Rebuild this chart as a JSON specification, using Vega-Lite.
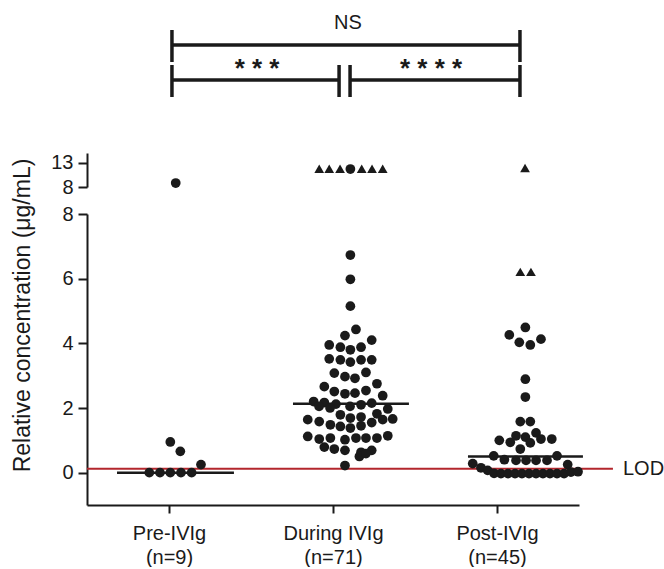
{
  "$schema": "https://vega.github.io/schema/vega-lite/v6.json",
  "background": "white",
  "padding": {"left": 10, "top": 10, "right": 0, "bottom": 0},
  "bounds": "flush",
  "spacing": 27,
  "config": {
    "view": {"stroke": null},
    "font": "Liberation Sans",
    "axis": {
      "domainColor": "#1a1a1a", "domainWidth": 2, "tickColor": "#1a1a1a", "tickWidth": 2, "tickSize": 9,
      "labelColor": "#1a1a1a", "labelFont": "Liberation Sans", "labelFontSize": 20, "labelPadding": 5,
      "titleFont": "Liberation Sans", "titleFontSize": 23, "titleFontWeight": "normal", "titleColor": "#1a1a1a",
      "grid": false
    }
  },
  "datasets": {
    "points": [
      {"group": "Pre-IVIg", "marker": "measured", "xpos": 0.541, "value": 8.82},
      {"group": "Pre-IVIg", "marker": "measured", "xpos": 0.508, "value": 0.95},
      {"group": "Pre-IVIg", "marker": "measured", "xpos": 0.569, "value": 0.66},
      {"group": "Pre-IVIg", "marker": "measured", "xpos": 0.695, "value": 0.25},
      {"group": "Pre-IVIg", "marker": "measured", "xpos": 0.380, "value": 0.0},
      {"group": "Pre-IVIg", "marker": "measured", "xpos": 0.445, "value": 0.0},
      {"group": "Pre-IVIg", "marker": "measured", "xpos": 0.508, "value": 0.0},
      {"group": "Pre-IVIg", "marker": "measured", "xpos": 0.573, "value": 0.0},
      {"group": "Pre-IVIg", "marker": "measured", "xpos": 0.638, "value": 0.0},

      {"group": "During IVIg", "marker": "flagged", "xpos": 1.416, "value": 11.75},
      {"group": "During IVIg", "marker": "flagged", "xpos": 1.477, "value": 11.75},
      {"group": "During IVIg", "marker": "flagged", "xpos": 1.543, "value": 11.75},
      {"group": "During IVIg", "marker": "measured", "xpos": 1.606, "value": 11.7},
      {"group": "During IVIg", "marker": "flagged", "xpos": 1.675, "value": 11.75},
      {"group": "During IVIg", "marker": "flagged", "xpos": 1.738, "value": 11.75},
      {"group": "During IVIg", "marker": "flagged", "xpos": 1.803, "value": 11.75},
      {"group": "During IVIg", "marker": "measured", "xpos": 1.606, "value": 6.73},
      {"group": "During IVIg", "marker": "measured", "xpos": 1.606, "value": 5.98},
      {"group": "During IVIg", "marker": "measured", "xpos": 1.606, "value": 5.15},
      {"group": "During IVIg", "marker": "measured", "xpos": 1.640, "value": 4.43},
      {"group": "During IVIg", "marker": "measured", "xpos": 1.573, "value": 4.24},
      {"group": "During IVIg", "marker": "measured", "xpos": 1.736, "value": 4.10},
      {"group": "During IVIg", "marker": "measured", "xpos": 1.477, "value": 3.95},
      {"group": "During IVIg", "marker": "measured", "xpos": 1.545, "value": 3.88},
      {"group": "During IVIg", "marker": "measured", "xpos": 1.606, "value": 3.80},
      {"group": "During IVIg", "marker": "measured", "xpos": 1.671, "value": 3.88},
      {"group": "During IVIg", "marker": "measured", "xpos": 1.477, "value": 3.52},
      {"group": "During IVIg", "marker": "measured", "xpos": 1.545, "value": 3.49},
      {"group": "During IVIg", "marker": "measured", "xpos": 1.606, "value": 3.42},
      {"group": "During IVIg", "marker": "measured", "xpos": 1.671, "value": 3.49},
      {"group": "During IVIg", "marker": "measured", "xpos": 1.736, "value": 3.49},
      {"group": "During IVIg", "marker": "measured", "xpos": 1.508, "value": 3.08},
      {"group": "During IVIg", "marker": "measured", "xpos": 1.573, "value": 2.97},
      {"group": "During IVIg", "marker": "measured", "xpos": 1.634, "value": 2.92},
      {"group": "During IVIg", "marker": "measured", "xpos": 1.701, "value": 3.10},
      {"group": "During IVIg", "marker": "measured", "xpos": 1.447, "value": 2.66},
      {"group": "During IVIg", "marker": "measured", "xpos": 1.508, "value": 2.51},
      {"group": "During IVIg", "marker": "measured", "xpos": 1.573, "value": 2.44},
      {"group": "During IVIg", "marker": "measured", "xpos": 1.634, "value": 2.46},
      {"group": "During IVIg", "marker": "measured", "xpos": 1.701, "value": 2.54},
      {"group": "During IVIg", "marker": "measured", "xpos": 1.768, "value": 2.75},
      {"group": "During IVIg", "marker": "measured", "xpos": 1.803, "value": 2.38},
      {"group": "During IVIg", "marker": "measured", "xpos": 1.382, "value": 2.20},
      {"group": "During IVIg", "marker": "measured", "xpos": 1.447, "value": 2.17},
      {"group": "During IVIg", "marker": "measured", "xpos": 1.518, "value": 2.12},
      {"group": "During IVIg", "marker": "measured", "xpos": 1.415, "value": 2.05},
      {"group": "During IVIg", "marker": "measured", "xpos": 1.482, "value": 2.00},
      {"group": "During IVIg", "marker": "measured", "xpos": 1.604, "value": 2.05},
      {"group": "During IVIg", "marker": "measured", "xpos": 1.671, "value": 2.10},
      {"group": "During IVIg", "marker": "measured", "xpos": 1.736, "value": 2.15},
      {"group": "During IVIg", "marker": "measured", "xpos": 1.834, "value": 1.97},
      {"group": "During IVIg", "marker": "measured", "xpos": 1.545, "value": 1.79},
      {"group": "During IVIg", "marker": "measured", "xpos": 1.606, "value": 1.69},
      {"group": "During IVIg", "marker": "measured", "xpos": 1.671, "value": 1.72},
      {"group": "During IVIg", "marker": "measured", "xpos": 1.736, "value": 1.55},
      {"group": "During IVIg", "marker": "measured", "xpos": 1.768, "value": 1.82},
      {"group": "During IVIg", "marker": "measured", "xpos": 1.803, "value": 1.64},
      {"group": "During IVIg", "marker": "measured", "xpos": 1.864, "value": 1.66},
      {"group": "During IVIg", "marker": "measured", "xpos": 1.346, "value": 1.64},
      {"group": "During IVIg", "marker": "measured", "xpos": 1.416, "value": 1.58},
      {"group": "During IVIg", "marker": "measured", "xpos": 1.484, "value": 1.48},
      {"group": "During IVIg", "marker": "measured", "xpos": 1.545, "value": 1.43},
      {"group": "During IVIg", "marker": "measured", "xpos": 1.606, "value": 1.38},
      {"group": "During IVIg", "marker": "measured", "xpos": 1.671, "value": 1.45},
      {"group": "During IVIg", "marker": "measured", "xpos": 1.346, "value": 1.12},
      {"group": "During IVIg", "marker": "measured", "xpos": 1.416, "value": 1.04},
      {"group": "During IVIg", "marker": "measured", "xpos": 1.484, "value": 1.07},
      {"group": "During IVIg", "marker": "measured", "xpos": 1.573, "value": 1.02},
      {"group": "During IVIg", "marker": "measured", "xpos": 1.640, "value": 1.07},
      {"group": "During IVIg", "marker": "measured", "xpos": 1.701, "value": 1.07},
      {"group": "During IVIg", "marker": "measured", "xpos": 1.768, "value": 1.07},
      {"group": "During IVIg", "marker": "measured", "xpos": 1.834, "value": 1.14},
      {"group": "During IVIg", "marker": "measured", "xpos": 1.447, "value": 0.79},
      {"group": "During IVIg", "marker": "measured", "xpos": 1.508, "value": 0.73},
      {"group": "During IVIg", "marker": "measured", "xpos": 1.573, "value": 0.69},
      {"group": "During IVIg", "marker": "measured", "xpos": 1.671, "value": 0.63},
      {"group": "During IVIg", "marker": "measured", "xpos": 1.736, "value": 0.69},
      {"group": "During IVIg", "marker": "measured", "xpos": 1.661, "value": 0.50},
      {"group": "During IVIg", "marker": "measured", "xpos": 1.701, "value": 0.59},
      {"group": "During IVIg", "marker": "measured", "xpos": 1.573, "value": 0.22},

      {"group": "Post-IVIg", "marker": "flagged", "xpos": 2.671, "value": 11.9},
      {"group": "Post-IVIg", "marker": "flagged", "xpos": 2.642, "value": 6.21},
      {"group": "Post-IVIg", "marker": "flagged", "xpos": 2.707, "value": 6.21},
      {"group": "Post-IVIg", "marker": "measured", "xpos": 2.673, "value": 4.49},
      {"group": "Post-IVIg", "marker": "measured", "xpos": 2.575, "value": 4.26},
      {"group": "Post-IVIg", "marker": "measured", "xpos": 2.636, "value": 4.03},
      {"group": "Post-IVIg", "marker": "measured", "xpos": 2.703, "value": 3.95},
      {"group": "Post-IVIg", "marker": "measured", "xpos": 2.768, "value": 4.13},
      {"group": "Post-IVIg", "marker": "measured", "xpos": 2.673, "value": 2.89},
      {"group": "Post-IVIg", "marker": "measured", "xpos": 2.673, "value": 2.34},
      {"group": "Post-IVIg", "marker": "measured", "xpos": 2.642, "value": 1.58},
      {"group": "Post-IVIg", "marker": "measured", "xpos": 2.703, "value": 1.58},
      {"group": "Post-IVIg", "marker": "measured", "xpos": 2.514, "value": 1.00},
      {"group": "Post-IVIg", "marker": "measured", "xpos": 2.581, "value": 0.94},
      {"group": "Post-IVIg", "marker": "measured", "xpos": 2.616, "value": 1.14},
      {"group": "Post-IVIg", "marker": "measured", "xpos": 2.673, "value": 1.10},
      {"group": "Post-IVIg", "marker": "measured", "xpos": 2.738, "value": 1.23},
      {"group": "Post-IVIg", "marker": "measured", "xpos": 2.768, "value": 1.04},
      {"group": "Post-IVIg", "marker": "measured", "xpos": 2.703, "value": 0.92},
      {"group": "Post-IVIg", "marker": "measured", "xpos": 2.834, "value": 1.04},
      {"group": "Post-IVIg", "marker": "measured", "xpos": 2.642, "value": 0.73},
      {"group": "Post-IVIg", "marker": "measured", "xpos": 2.480, "value": 0.52},
      {"group": "Post-IVIg", "marker": "measured", "xpos": 2.545, "value": 0.40},
      {"group": "Post-IVIg", "marker": "measured", "xpos": 2.616, "value": 0.38},
      {"group": "Post-IVIg", "marker": "measured", "xpos": 2.677, "value": 0.38},
      {"group": "Post-IVIg", "marker": "measured", "xpos": 2.738, "value": 0.38},
      {"group": "Post-IVIg", "marker": "measured", "xpos": 2.805, "value": 0.38},
      {"group": "Post-IVIg", "marker": "measured", "xpos": 2.866, "value": 0.52},
      {"group": "Post-IVIg", "marker": "measured", "xpos": 2.931, "value": 0.25},
      {"group": "Post-IVIg", "marker": "measured", "xpos": 2.352, "value": 0.28},
      {"group": "Post-IVIg", "marker": "measured", "xpos": 2.402, "value": 0.15},
      {"group": "Post-IVIg", "marker": "measured", "xpos": 2.443, "value": 0.07},
      {"group": "Post-IVIg", "marker": "measured", "xpos": 2.482, "value": -0.02},
      {"group": "Post-IVIg", "marker": "measured", "xpos": 2.524, "value": -0.03},
      {"group": "Post-IVIg", "marker": "measured", "xpos": 2.567, "value": -0.03},
      {"group": "Post-IVIg", "marker": "measured", "xpos": 2.610, "value": -0.03},
      {"group": "Post-IVIg", "marker": "measured", "xpos": 2.652, "value": -0.03},
      {"group": "Post-IVIg", "marker": "measured", "xpos": 2.695, "value": -0.03},
      {"group": "Post-IVIg", "marker": "measured", "xpos": 2.738, "value": -0.03},
      {"group": "Post-IVIg", "marker": "measured", "xpos": 2.780, "value": -0.03},
      {"group": "Post-IVIg", "marker": "measured", "xpos": 2.823, "value": -0.03},
      {"group": "Post-IVIg", "marker": "measured", "xpos": 2.866, "value": -0.03},
      {"group": "Post-IVIg", "marker": "measured", "xpos": 2.909, "value": -0.03},
      {"group": "Post-IVIg", "marker": "measured", "xpos": 2.951, "value": 0.02},
      {"group": "Post-IVIg", "marker": "measured", "xpos": 2.994, "value": 0.03}
    ],
    "medians": [
      {"group": "Pre-IVIg", "value": 0.0, "xpos": 0.183, "xend": 0.896},
      {"group": "During IVIg", "value": 2.13, "xpos": 1.256, "xend": 1.963},
      {"group": "Post-IVIg", "value": 0.5, "xpos": 2.323, "xend": 3.024}
    ],
    "lodLine": [{"value": 0.12, "xpos": 0, "xend": 3.207}],
    "lodLabel": [{"value": 0.12, "xpos": 3.268, "label": "LOD"}],
    "brackets": [
      {"comparison": "Pre vs Post", "xpos": 0.518, "xend": 2.640, "y": 8.1, "yend": 8.1},
      {"comparison": "Pre vs Post", "xpos": 0.518, "xend": 0.518, "y": 6.4, "yend": 9.6},
      {"comparison": "Pre vs Post", "xpos": 2.640, "xend": 2.640, "y": 6.4, "yend": 9.6},
      {"comparison": "Pre vs During", "xpos": 0.518, "xend": 1.537, "y": 4.6, "yend": 4.6},
      {"comparison": "Pre vs During", "xpos": 0.518, "xend": 0.518, "y": 2.9, "yend": 6.1},
      {"comparison": "Pre vs During", "xpos": 1.537, "xend": 1.537, "y": 2.9, "yend": 6.1},
      {"comparison": "During vs Post", "xpos": 1.604, "xend": 2.640, "y": 4.6, "yend": 4.6},
      {"comparison": "During vs Post", "xpos": 1.604, "xend": 1.604, "y": 2.9, "yend": 6.1},
      {"comparison": "During vs Post", "xpos": 2.640, "xend": 2.640, "y": 2.9, "yend": 6.1}
    ],
    "significance": [
      {"comparison": "Pre vs Post", "label": "NS", "xpos": 1.591, "y": 9.7},
      {"comparison": "Pre vs During", "label": "* * *", "xpos": 1.037, "y": 4.95},
      {"comparison": "During vs Post", "label": "* * * *", "xpos": 2.098, "y": 4.95}
    ]
  },
  "resolve": {"scale": {"x": "independent", "y": "independent"}},
  "vconcat": [
    {
      "width": 492,
      "height": 116,
      "encoding": {
        "x": {"field": "xpos", "type": "quantitative", "scale": {"domain": [0, 3], "nice": false, "zero": false}, "axis": null},
        "y": {"field": "y", "type": "quantitative", "scale": {"domain": [0, 11.6], "nice": false, "zero": false}, "axis": null}
      },
      "layer": [
        {
          "data": {"name": "brackets"},
          "mark": {"type": "rule", "strokeWidth": 3.5, "color": "#1a1a1a"},
          "encoding": {"x2": {"field": "xend"}, "y2": {"field": "yend"}}
        },
        {
          "data": {"name": "significance"},
          "transform": [{"filter": "datum.label == 'NS'"}],
          "mark": {"type": "text", "fontSize": 20, "baseline": "alphabetic", "align": "center", "color": "#1a1a1a"},
          "encoding": {"text": {"field": "label"}}
        },
        {
          "data": {"name": "significance"},
          "transform": [{"filter": "datum.label != 'NS'"}],
          "mark": {"type": "text", "fontSize": 26, "fontWeight": "bold", "baseline": "alphabetic", "align": "center", "color": "#1a1a1a"},
          "encoding": {"text": {"field": "label"}}
        }
      ]
    },
    {
      "width": 492,
      "height": 34,
      "data": {"name": "points"},
      "transform": [{"filter": "datum.value > 8"}],
      "mark": {"type": "point", "filled": true, "opacity": 1, "size": 95, "color": "#1a1a1a"},
      "encoding": {
        "x": {"field": "xpos", "type": "quantitative", "scale": {"domain": [0, 3], "nice": false, "zero": false}, "axis": null},
        "y": {"field": "value", "type": "quantitative", "scale": {"domain": [8, 15], "nice": false, "zero": false},
              "axis": {"values": [8, 13], "title": null, "labelOverlap": false}},
        "shape": {"field": "marker", "type": "nominal", "scale": {"domain": ["measured", "flagged"], "range": ["circle", "triangle-up"]}, "legend": null}
      }
    },
    {
      "width": 492,
      "height": 291,
      "encoding": {
        "x": {"field": "xpos", "type": "quantitative", "scale": {"domain": [0, 3], "nice": false, "zero": false},
              "axis": {"values": [0.5, 1.5, 2.5], "title": null, "tickSize": 8, "labelPadding": 10, "labelLineHeight": 24, "labelOverlap": false,
                       "labelExpr": "datum.value < 1 ? ['Pre-IVIg', '(n=9)'] : datum.value < 2 ? ['During IVIg', '(n=71)'] : ['Post-IVIg', '(n=45)']"}},
        "y": {"field": "value", "type": "quantitative", "scale": {"domain": [-1, 8], "nice": false, "zero": false},
              "axis": {"values": [0, 2, 4, 6, 8], "title": "Relative concentration (μg/mL)", "titleX": -58, "titleY": 101,
                       "titleBaseline": "alphabetic", "titleAngle": -90, "titleAlign": "center"}}
      },
      "layer": [
        {
          "data": {"name": "lodLine"},
          "mark": {"type": "rule", "strokeWidth": 2, "color": "#b3262c"},
          "encoding": {"x2": {"field": "xend"}}
        },
        {
          "data": {"name": "medians"},
          "mark": {"type": "rule", "strokeWidth": 2.5, "color": "#1a1a1a"},
          "encoding": {"x2": {"field": "xend"}}
        },
        {
          "data": {"name": "points"},
          "transform": [{"filter": "datum.value <= 8"}],
          "mark": {"type": "point", "filled": true, "opacity": 1, "size": 95, "color": "#1a1a1a"},
          "encoding": {
            "shape": {"field": "marker", "type": "nominal", "scale": {"domain": ["measured", "flagged"], "range": ["circle", "triangle-up"]}, "legend": null}
          }
        },
        {
          "data": {"name": "lodLabel"},
          "mark": {"type": "text", "fontSize": 20, "align": "left", "baseline": "middle", "color": "#1a1a1a"},
          "encoding": {"text": {"field": "label"}}
        }
      ]
    }
  ]
}
